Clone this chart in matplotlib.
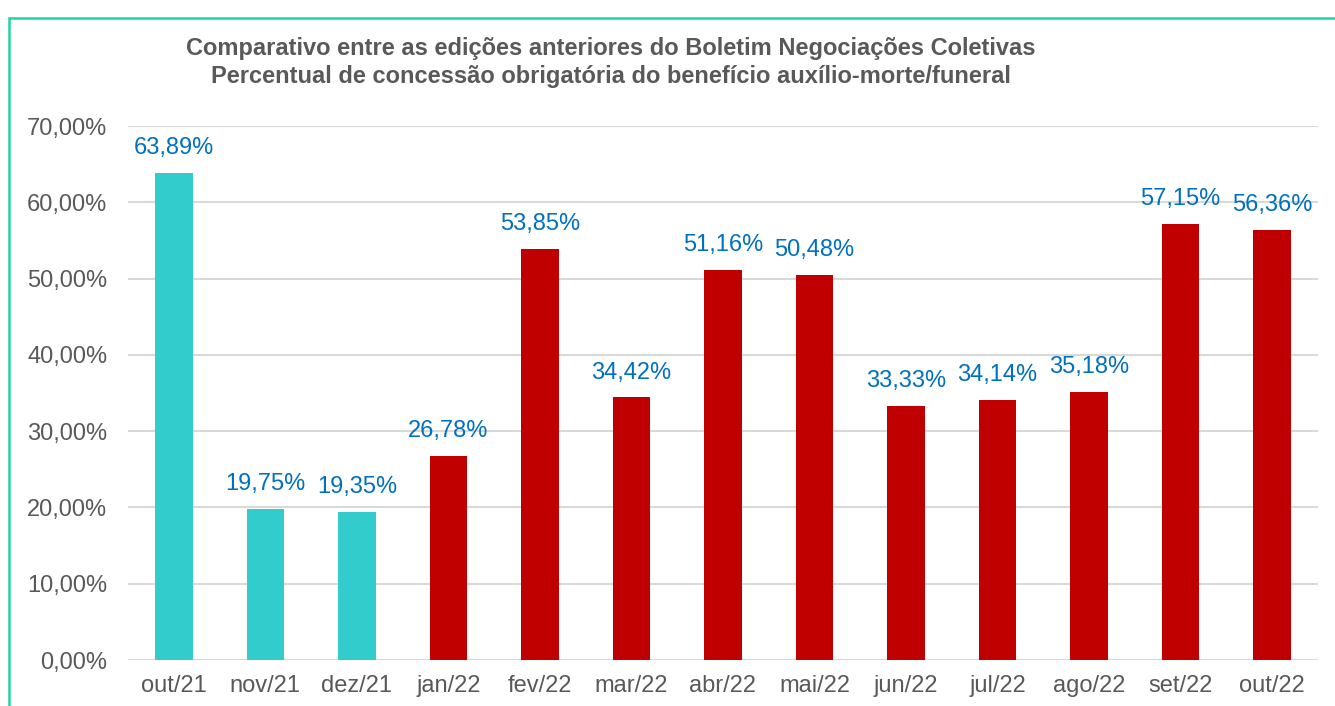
import matplotlib
matplotlib.use("Agg")
import matplotlib.pyplot as plt
from matplotlib.patches import Rectangle
from matplotlib.ticker import FuncFormatter

plt.rcParams['font.family'] = ['Liberation Sans', 'DejaVu Sans']

categories = ["out/21", "nov/21", "dez/21", "jan/22", "fev/22", "mar/22", "abr/22",
              "mai/22", "jun/22", "jul/22", "ago/22", "set/22", "out/22"]
values = [63.89, 19.75, 19.35, 26.78, 53.85, 34.42, 51.16, 50.48, 33.33, 34.14, 35.18, 57.15, 56.36]
groups = ["prev", "prev", "prev", "cur", "cur", "cur", "cur", "cur", "cur", "cur", "cur", "cur", "cur"]
group_colors = {"prev": "#33CCCC", "cur": "#C00000"}
title_lines = ["Comparativo entre as edições anteriores do Boletim Negociações Coletivas",
               "Percentual de concessão obrigatória do benefício auxílio-morte/funeral"]

W, H = 1335, 706
fig = plt.figure(figsize=(W / 100, H / 100), dpi=100)

# frame border
fig.patches.append(Rectangle((9 / W, -0.1), 1.2, 1 - 18 / H + 0.1, transform=fig.transFigure,
                             fill=False, edgecolor="#1ED4A4", linewidth=1.8, zorder=0))

ax = fig.add_axes([128 / W, (H - 660) / H, (1318 - 128) / W, (660 - 126) / H])
x = range(len(categories))
colors = [group_colors[g] for g in groups]
ax.bar(x, values, width=0.41, color=colors, zorder=3)
ax.set_xlim(-0.5, len(categories) - 0.5)
ax.set_ylim(0, 70)
ax.set_yticks(range(0, 71, 10))
ax.yaxis.set_major_formatter(FuncFormatter(lambda v, p: f"{v:.2f}%".replace(".", ",")))
ax.set_xticks(list(x))
ax.set_xticklabels(categories)
ax.tick_params(axis='both', length=0, labelsize=17, colors="#595959")
ax.tick_params(axis='x', pad=11)
ax.tick_params(axis='y', pad=15)
ax.grid(axis='y', color="#D9D9D9", linewidth=1.5, zorder=0)
for s in ax.spines.values():
    s.set_visible(False)

for xi, v in zip(x, values):
    ax.annotate(f"{v:.2f}%".replace(".", ","), (xi, v), xytext=(0, 10), textcoords="offset points",
                ha="center", va="bottom", fontsize=17, color="#0070C0")

fig.text(611 / W, 1 - 48 / H, title_lines[0], ha="center", va="center", fontsize=17,
         fontweight="bold", color="#595959")
fig.text(611 / W, 1 - 76 / H, title_lines[1], ha="center", va="center", fontsize=17,
         fontweight="bold", color="#595959")

fig.savefig("out.png", dpi=100)
